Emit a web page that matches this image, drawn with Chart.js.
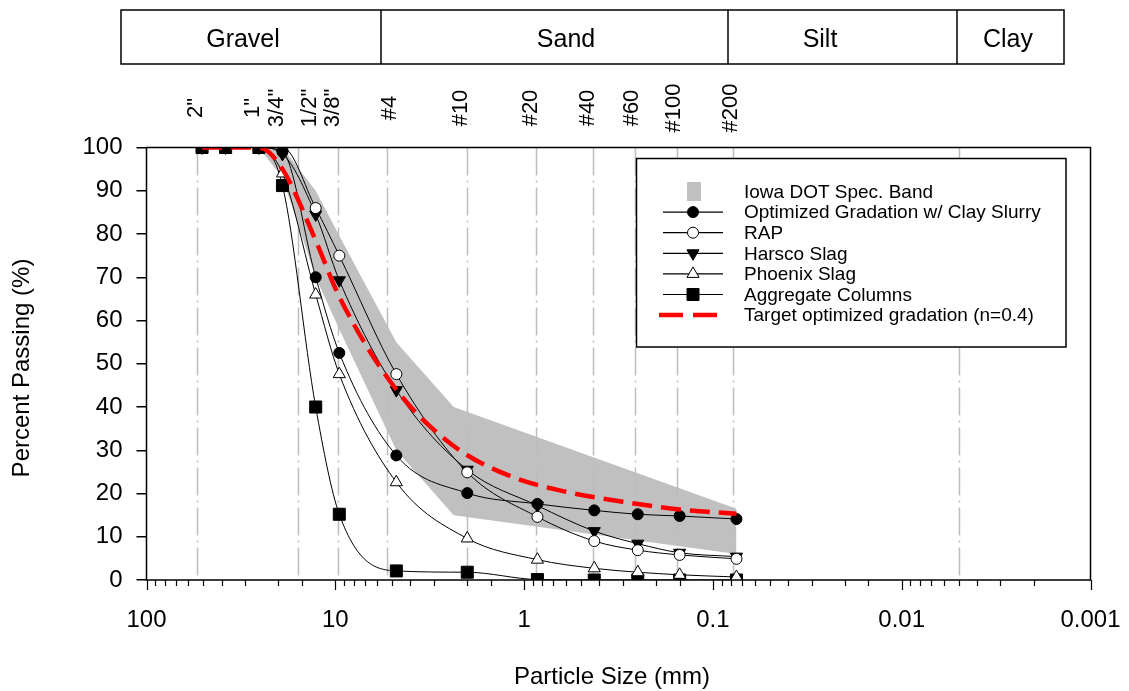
<!DOCTYPE html>
<html>
<head>
<meta charset="utf-8">
<script src="https://cdn.jsdelivr.net/npm/chart.js@4.4.1/dist/chart.umd.min.js"></script>
<style>
  html, body { margin: 0; padding: 0; background: #fff; }
  canvas { display: block; }
</style>
</head>
<body>
<canvas id="gradation" width="1129" height="691"></canvas>
<script>
// sieve openings (mm) used for the gradation tests
const sieveSizes = [50.8, 38.1, 25.4, 19.05, 12.7, 9.525, 4.75, 2.0, 0.85, 0.425, 0.25, 0.15, 0.075];

// percent passing for each material
const clayslurryPass = [100, 100, 100, 99, 70, 52.5, 28.8, 20.1, 17.6, 16.1, 15.2, 14.8, 14.1];
const rapPass        = [100, 100, 100, 100, 86, 75, 47.6, 24.9, 14.6, 9.0, 6.9, 5.8, 4.9];
const harscoPass     = [100, 100, 100, 98.5, 84.5, 69.3, 43.9, 25.5, 17.2, 11.3, 8.4, 6.3, 5.4];
const phoenixPass    = [100, 100, 100, 94, 66, 47.6, 22.6, 9.6, 4.7, 2.7, 1.8, 1.2, 0.7];
const aggregatePass  = [100, 100, 100, 91.2, 40, 15.2, 2.1, 1.8, 0.1, 0, 0, 0, 0];

// target optimized gradation curve (n = 0.4)
const targetSizes = [50.8, 38.1, 25.4, 19.05, 12.7, 9.525, 4.75, 2.36, 1.18, 0.6, 0.3, 0.15, 0.075];
const targetPass  = [100, 100, 100, 95, 78.5, 65.5, 44, 31, 24, 20.4, 18.1, 16.3, 15.3];

// Iowa DOT specification band
const bandSizes = [25.4, 19.05, 12.7, 9.525, 4.75, 2.36, 0.075];
const bandUpper = [100, 100, 90, 79.6, 55, 40, 16.5];
const bandLower = [100, 93, 70, 58, 30, 15, 6];

// sieve names written above the plot
const sieveNames  = ['2"', '1"', '3/4"', '1/2"', '3/8"', '#4', '#10', '#20', '#40', '#60', '#100', '#200'];
const sieveNameMm = [50.8, 25.4, 19.05, 12.7, 9.525, 4.75, 2.0, 0.85, 0.425, 0.25, 0.15, 0.075];

// dash-dot guide lines (mm)
const guideMm = [54, 15.8, 9.7, 5.3, 2.0, 0.86, 0.43, 0.26, 0.155, 0.078, 0.005];

const xTickText = ['100', '10', '1', '0.1', '0.01', '0.001'];
const soilClasses = ['Gravel', 'Sand', 'Silt', 'Clay'];

const FONT = '"Liberation Sans", Arial, sans-serif';

function pts(xs, ys) {
  return xs.map((x, i) => ({ x: x, y: ys[i] }));
}

function series(label, ys, style, rotation, fill, radius) {
  return {
    label: label,
    data: pts(sieveSizes, ys),
    borderColor: '#000',
    borderWidth: 1,
    pointStyle: style,
    rotation: rotation,
    pointRadius: radius,
    pointBackgroundColor: fill,
    pointBorderColor: '#000',
    pointBorderWidth: 1,
    cubicInterpolationMode: 'monotone',
    fill: false,
    order: 3
  };
}

const datasets = [
  {
    label: 'Iowa DOT Spec. Band',
    data: pts(bandSizes, bandUpper),
    borderWidth: 0,
    pointRadius: 0,
    backgroundColor: '#c0c0c0',
    fill: '+1',
    order: 10
  },
  {
    label: '',
    data: pts(bandSizes, bandLower),
    borderWidth: 0,
    pointRadius: 0,
    fill: false,
    order: 10
  },
  series('Optimized Gradation w/ Clay Slurry', clayslurryPass, 'circle', 0, '#000', 5.5),
  series('RAP', rapPass, 'circle', 0, '#fff', 5.5),
  series('Harsco Slag', harscoPass, 'triangle', 180, '#000', 7),
  series('Phoenix Slag', phoenixPass, 'triangle', 0, '#fff', 7),
  series('Aggregate Columns', aggregatePass, 'rect', 0, '#000', 8.5),
  {
    label: 'Target optimized gradation (n=0.4)',
    data: pts(targetSizes, targetPass),
    borderColor: '#ff0000',
    borderWidth: 4.5,
    borderDash: [20, 9],
    pointRadius: 0,
    cubicInterpolationMode: 'monotone',
    fill: false,
    order: 1
  }
];

function isDecade(v) {
  const e = Math.log10(v);
  return Math.abs(e - Math.round(e)) < 1e-6;
}

const decorations = {
  id: 'decorations',
  beforeDatasetsDraw(chart) {
    const { ctx, chartArea: a, scales: { x } } = chart;
    ctx.save();
    ctx.strokeStyle = '#bdbdbd';
    ctx.lineWidth = 1.5;
    ctx.setLineDash([28, 5, 2, 5]);
    guideMm.forEach(mm => {
      const px = Math.round(x.getPixelForValue(mm)) + 0.5;
      ctx.beginPath();
      ctx.moveTo(px, a.top);
      ctx.lineTo(px, a.bottom);
      ctx.stroke();
    });
    ctx.restore();
  },
  afterDraw(chart) {
    const { ctx, chartArea: a, scales: { x } } = chart;
    ctx.save();

    // frame
    ctx.strokeStyle = '#000';
    ctx.lineWidth = 1.5;
    ctx.strokeRect(a.left, a.top, a.right - a.left, a.bottom - a.top);

    // x tick marks, longer on decades
    ctx.lineWidth = 1.2;
    x.ticks.forEach(t => {
      const px = Math.round(x.getPixelForValue(t.value)) + 0.5;
      const len = isDecade(t.value) ? 10 : 6;
      ctx.beginPath();
      ctx.moveTo(px, a.bottom);
      ctx.lineTo(px, a.bottom + len);
      ctx.stroke();
    });

    // sieve names, rotated
    ctx.fillStyle = '#000';
    ctx.font = '22px ' + FONT;
    ctx.textAlign = 'center';
    ctx.textBaseline = 'middle';
    sieveNames.forEach((name, i) => {
      const px = x.getPixelForValue(sieveNameMm[i]) - 6;
      ctx.save();
      ctx.translate(px, 108);
      ctx.rotate(-Math.PI / 2);
      ctx.fillText(name, 0, 0);
      ctx.restore();
    });

    // soil classification strip
    const edges = [121, 381, 728, 957, 1064];
    const textX = [243, 566, 820, 1008];
    ctx.lineWidth = 1.5;
    ctx.strokeRect(edges[0], 10, edges[4] - edges[0], 54);
    for (let i = 1; i < 4; i++) {
      ctx.beginPath();
      ctx.moveTo(edges[i], 10);
      ctx.lineTo(edges[i], 64);
      ctx.stroke();
    }
    ctx.font = '25px ' + FONT;
    soilClasses.forEach((name, i) => ctx.fillText(name, textX[i], 40));

    // axis titles
    ctx.font = '24px ' + FONT;
    ctx.fillText('Particle Size (mm)', 612, 677);
    ctx.save();
    ctx.translate(22, 368);
    ctx.rotate(-Math.PI / 2);
    ctx.fillText('Percent Passing (%)', 0, 0);
    ctx.restore();

    // legend
    const box = { l: 636.5, t: 158.5, r: 1066, b: 347 };
    ctx.fillStyle = '#fff';
    ctx.fillRect(box.l, box.t, box.r - box.l, box.b - box.t);
    ctx.strokeStyle = '#000';
    ctx.lineWidth = 1.5;
    ctx.strokeRect(box.l, box.t, box.r - box.l, box.b - box.t);

    const rows = chart.data.datasets.filter(d => d.label);
    ctx.font = '19px ' + FONT;
    ctx.textAlign = 'left';
    rows.forEach((d, i) => {
      const y = 191.5 + i * 20.6;
      if (d.fill === '+1') {
        ctx.fillStyle = d.backgroundColor;
        ctx.fillRect(687, y - 9.5, 14, 19);
      } else if (d.borderDash) {
        ctx.strokeStyle = d.borderColor;
        ctx.lineWidth = d.borderWidth;
        ctx.setLineDash([24, 10]);
        ctx.beginPath();
        ctx.moveTo(659, y);
        ctx.lineTo(717, y);
        ctx.stroke();
        ctx.setLineDash([]);
      } else {
        ctx.strokeStyle = '#000';
        ctx.lineWidth = 1.2;
        ctx.beginPath();
        ctx.moveTo(663, y);
        ctx.lineTo(723, y);
        ctx.stroke();
        ctx.fillStyle = d.pointBackgroundColor;
        ctx.lineWidth = 1;
        Chart.helpers.drawPoint(ctx, {
          pointStyle: d.pointStyle,
          rotation: d.rotation,
          radius: d.pointRadius,
          borderWidth: 1
        }, 693, y);
      }
      ctx.fillStyle = '#000';
      ctx.fillText(d.label, 744, y + 1);
    });

    ctx.restore();
  }
};

new Chart(document.getElementById('gradation'), {
  type: 'line',
  data: { datasets: datasets },
  options: {
    responsive: false,
    animation: false,
    events: [],
    layout: { padding: { top: 147.5, right: 38.5, left: 0, bottom: 0 } },
    plugins: {
      legend: { display: false },
      tooltip: { enabled: false },
      filler: { drawTime: 'beforeDatasetsDraw' }
    },
    scales: {
      x: {
        type: 'logarithmic',
        reverse: true,
        min: 0.001,
        max: 100,
        afterFit: s => { s.height = 111; s.paddingLeft = 0; s.paddingRight = 0; },
        grid: { display: false },
        border: { display: false },
        ticks: {
          autoSkip: false,
          maxRotation: 0,
          padding: 18,
          color: '#000',
          font: { family: FONT, size: 24 },
          callback: v => isDecade(v) ? xTickText[2 - Math.round(Math.log10(v))] : ''
        }
      },
      y: {
        min: 0,
        max: 100,
        afterFit: s => { s.width = 146.5; s.paddingTop = 0; s.paddingBottom = 0; },
        grid: { drawOnChartArea: false, tickLength: 10, color: '#000', lineWidth: 1.5 },
        border: { display: false },
        ticks: {
          stepSize: 10,
          padding: 14,
          color: '#000',
          font: { family: FONT, size: 24 }
        }
      }
    }
  },
  plugins: [decorations]
});
</script>
</body>
</html>
